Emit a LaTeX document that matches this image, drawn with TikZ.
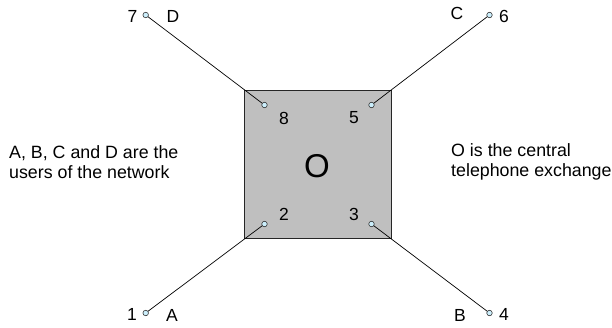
\documentclass[tikz,border=0pt]{standalone}
\usepackage{fontspec}
\setmainfont{Liberation Sans}
\begin{document}
\begin{tikzpicture}[x=1pt,y=-1pt,
  term/.style={circle,draw=black!80,fill=cyan!20,inner sep=0pt,minimum size=5.5pt,line width=0.6pt},
  lbl/.style={inner sep=0pt,font=\fontsize{17.5}{20}\selectfont},
  wire/.style={draw=black,line width=0.7pt},
  desc/.style={inner sep=0pt,align=left,anchor=west,font=\fontsize{17.8}{19.5}\selectfont}]
\useasboundingbox (0,0) rectangle (612,327);
% central exchange
\node[draw=black!85,fill=black!25,line width=0.9pt,minimum width=146.5pt,minimum height=147.5pt,inner sep=0pt] (O) at (317.75,164.25) {};
\node[inner sep=0pt,font=\fontsize{33}{33}\selectfont] (Olbl) at (317,166) {O};
% terminals
\coordinate (c7) at (145.7,15);
\coordinate (c8) at (264.5,105);
\coordinate (c5) at (371.5,105);
\coordinate (c6) at (489.5,15);
\coordinate (c2) at (264.5,224);
\coordinate (c3) at (371.5,224);
\coordinate (c1) at (145.7,313);
\coordinate (c4) at (489.5,313);
\draw[wire] (c7) -- (c8);
\draw[wire] (c5) -- (c6);
\draw[wire] (c1) -- (c2);
\draw[wire] (c3) -- (c4);
\foreach \n in {1,...,8} {\node[term] (t\n) at (c\n) {};}
% number labels
\node[lbl] (l7) at (132.5,16) {7};
\node[lbl] (l6) at (504,16) {6};
\node[lbl] (l1) at (132,314) {1};
\node[lbl] (l4) at (504,314) {4};
\node[lbl] (l8) at (284,118) {8};
\node[lbl] (l5) at (354,118) {5};
\node[lbl] (l2) at (284,214) {2};
\node[lbl] (l3) at (354,214) {3};
% user labels
\node[lbl] (D) at (173,16) {D};
\node[lbl] (C) at (457,13) {C};
\node[lbl] (A) at (172,315) {A};
\node[lbl] (B) at (460,315) {B};
% descriptions
\node[desc] (left) at (9,162) {A, B, C and D are the\\users of the network};
\node[desc] (right) at (451,162) {O is the central\\telephone exchange};
\end{tikzpicture}
\end{document}
